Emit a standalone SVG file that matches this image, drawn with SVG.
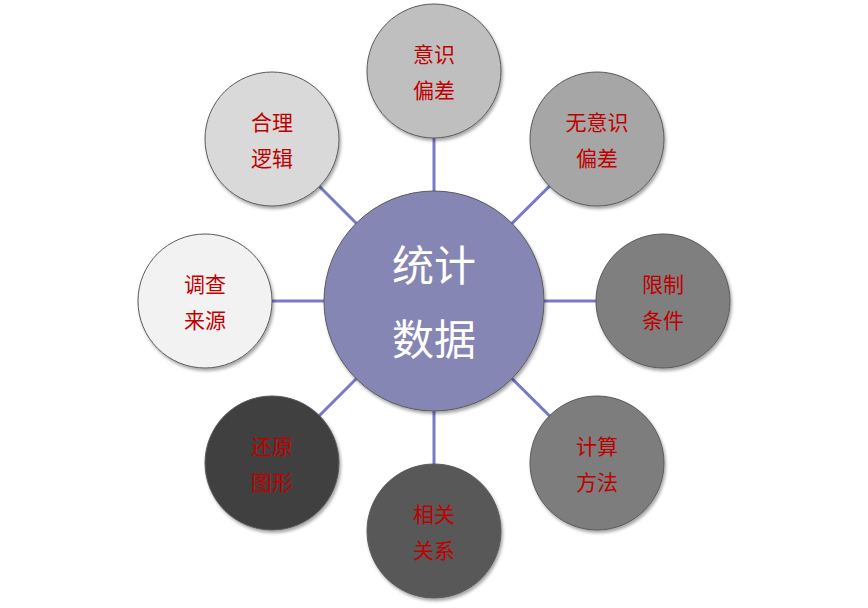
<svg xmlns="http://www.w3.org/2000/svg" width="868" height="608" viewBox="0 0 868 608">
<defs>
<filter id="sh" x="-20%" y="-20%" width="140%" height="140%">
<feDropShadow dx="1.5" dy="2.5" stdDeviation="1.5" flood-color="#000" flood-opacity="0.35"/>
</filter>
</defs>
<style>
.c{stroke:#5a5a5a;stroke-width:1;filter:url(#sh)}
.t{font-family:"Noto Sans CJK SC","Noto Sans CJK TC",sans-serif;font-size:21px;fill:#c00000;text-anchor:middle;dominant-baseline:central}
.ct{font-family:"Noto Sans CJK SC","Noto Sans CJK TC",sans-serif;font-size:42px;fill:#ffffff;text-anchor:middle;dominant-baseline:central}
.ln{stroke:#7878cc;stroke-width:3}
</style>
<rect width="868" height="608" fill="#ffffff"/>
<g id="connectors">
<line class="ln" x1="434" y1="301" x2="434" y2="71"/>
<line class="ln" x1="434" y1="301" x2="597" y2="139"/>
<line class="ln" x1="434" y1="301" x2="663" y2="301"/>
<line class="ln" x1="434" y1="301" x2="597" y2="463"/>
<line class="ln" x1="434" y1="301" x2="434" y2="531"/>
<line class="ln" x1="434" y1="301" x2="272" y2="463"/>
<line class="ln" x1="434" y1="301" x2="205" y2="301"/>
<line class="ln" x1="434" y1="301" x2="272" y2="139"/>
</g>
<g id="center">
<circle class="c" cx="434" cy="301" r="110" fill="#8686b4"/>
<text class="ct" x="434" y="262">统计</text>
<text class="ct" x="434" y="336">数据</text>
</g>
<g id="n-top">
<circle class="c" cx="434" cy="71" r="67" fill="#bfbfbf"/>
<text class="t" x="434" y="53">意识</text>
<text class="t" x="434" y="89">偏差</text>
</g>
<g id="n-topright">
<circle class="c" cx="597" cy="139" r="67" fill="#a6a6a6"/>
<text class="t" x="597" y="121">无意识</text>
<text class="t" x="597" y="157">偏差</text>
</g>
<g id="n-right">
<circle class="c" cx="663" cy="301" r="67" fill="#7f7f7f"/>
<text class="t" x="663" y="283">限制</text>
<text class="t" x="663" y="319">条件</text>
</g>
<g id="n-bottomright">
<circle class="c" cx="597" cy="463" r="67" fill="#7d7d7d"/>
<text class="t" x="597" y="445">计算</text>
<text class="t" x="597" y="481">方法</text>
</g>
<g id="n-bottom">
<circle class="c" cx="434" cy="531" r="67" fill="#595959"/>
<text class="t" x="434" y="513">相关</text>
<text class="t" x="434" y="549">关系</text>
</g>
<g id="n-bottomleft">
<circle class="c" cx="272" cy="463" r="67" fill="#404040"/>
<text class="t" x="272" y="445">还原</text>
<text class="t" x="272" y="481">图形</text>
</g>
<g id="n-left">
<circle class="c" cx="205" cy="301" r="67" fill="#f2f2f2"/>
<text class="t" x="205" y="283">调查</text>
<text class="t" x="205" y="319">来源</text>
</g>
<g id="n-topleft">
<circle class="c" cx="272" cy="139" r="67" fill="#d9d9d9"/>
<text class="t" x="272" y="121">合理</text>
<text class="t" x="272" y="157">逻辑</text>
</g>
</svg>
